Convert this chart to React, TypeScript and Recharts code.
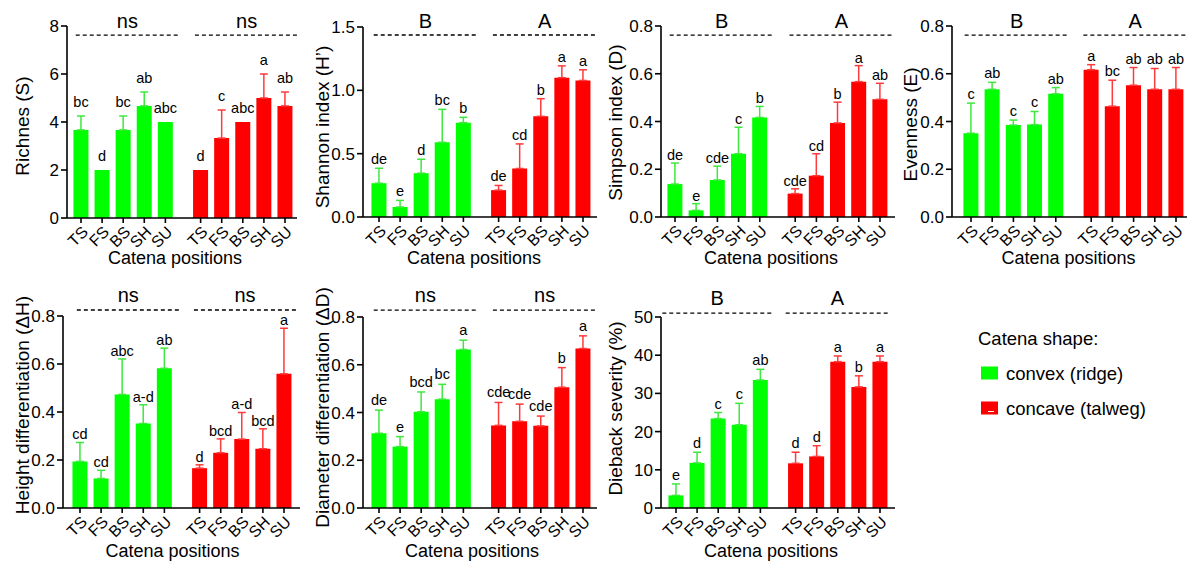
import React from 'react';
import {
  ComposedChart,
  Bar,
  Cell,
  ErrorBar,
  Line,
  LabelList,
  XAxis,
  YAxis,
  ReferenceLine,
} from 'recharts';

// ---------- data ----------
const positions = ['TS', 'FS', 'BS', 'SH', 'SU'];
const xSlots = [0, 1, 2, 3, 4, 5.67, 6.67, 7.67, 8.67, 9.67];
const tickLabels = [...positions, ...positions];
const shapes = ['convex (ridge)', 'concave (talweg)'];

const richMean = [3.67, 2.0, 3.67, 4.67, 4.0, 2.0, 3.33, 4.0, 5.0, 4.67];
const richErr = [0.58, 0, 0.58, 0.58, 0, 0, 1.17, 0, 1.0, 0.58];
const richLetters = ['bc', 'd', 'bc', 'ab', 'abc', 'd', 'c', 'abc', 'a', 'ab'];
const richGroups = ['ns', 'ns'];

const shanMean = [0.267, 0.079, 0.346, 0.59, 0.745, 0.212, 0.383, 0.795, 1.1, 1.078];
const shanErr = [0.118, 0.052, 0.11, 0.26, 0.042, 0.037, 0.194, 0.139, 0.093, 0.084];
const shanLetters = ['de', 'e', 'd', 'bc', 'b', 'de', 'cd', 'b', 'a', 'a'];
const shanGroups = ['B', 'A'];

const simpMean = [0.138, 0.028, 0.155, 0.265, 0.417, 0.098, 0.173, 0.394, 0.567, 0.493];
const simpErr = [0.088, 0.028, 0.058, 0.111, 0.046, 0.02, 0.092, 0.087, 0.067, 0.067];
const simpLetters = ['de', 'e', 'cde', 'c', 'b', 'cde', 'cd', 'b', 'a', 'ab'];
const simpGroups = ['B', 'A'];

const evenMean = [0.351, 0.535, 0.385, 0.387, 0.516, 0.617, 0.464, 0.552, 0.535, 0.535];
const evenErr = [0.126, 0.029, 0.021, 0.055, 0.026, 0.021, 0.109, 0.074, 0.087, 0.091];
const evenLetters = ['c', 'ab', 'c', 'c', 'ab', 'a', 'bc', 'ab', 'ab', 'ab'];
const evenGroups = ['B', 'A'];

const heightMean = [0.194, 0.123, 0.473, 0.352, 0.582, 0.166, 0.23, 0.287, 0.247, 0.559];
const heightErr = [0.079, 0.034, 0.148, 0.078, 0.084, 0.014, 0.058, 0.111, 0.083, 0.19];
const heightLetters = ['cd', 'cd', 'abc', 'a-d', 'ab', 'd', 'bcd', 'a-d', 'bcd', 'a'];
const heightGroups = ['ns', 'ns'];

const diamMean = [0.313, 0.257, 0.403, 0.456, 0.664, 0.346, 0.363, 0.344, 0.506, 0.668];
const diamErr = [0.097, 0.042, 0.083, 0.062, 0.039, 0.096, 0.072, 0.041, 0.082, 0.053];
const diamLetters = ['de', 'e', 'bcd', 'bc', 'a', 'cde', 'cde', 'cde', 'b', 'a'];
const diamGroups = ['ns', 'ns'];

const dieMean = [3.3, 11.8, 23.4, 21.8, 33.5, 11.7, 13.5, 38.3, 31.7, 38.3];
const dieErr = [3.0, 2.8, 1.6, 5.6, 2.8, 2.9, 2.8, 1.5, 2.9, 1.5];
const dieLetters = ['e', 'd', 'c', 'c', 'ab', 'd', 'd', 'a', 'b', 'a'];
const dieGroups = ['B', 'A'];

const ticks8 = [0, 2, 4, 6, 8];
const ticks15 = [0, 0.5, 1.0, 1.5];
const ticks08 = [0, 0.2, 0.4, 0.6, 0.8];
const ticks50 = [0, 10, 20, 30, 40, 50];

// ---------- styles ----------
const GREEN = '#00ff00';
const RED = '#ff0000';
const GREEN_ERR = '#3ee83e';
const RED_ERR = '#ff3a3a';
const FONT = '"Liberation Sans", Arial, Helvetica, sans-serif';

type Spec = {
  left: number; top: number; width: number; height: number;
  axisX: number; plotTop: number; plotBottom: number; plotRight: number;
  firstBar: number; lastBar: number;
  mean: number[]; err: number[]; letters: string[]; groups: string[];
  yMax: number; yTicks: number[]; decimals: number; yLabel: string;
  yLabelX: number; yLabelDy: number; xLabelDx: number; xLabelOffset: number;
  letterOffset: number; dashY: number; dashA: [number, number]; dashB: [number, number];
  groupOffset: number;
};

function Panel({ s }: { s: Spec }) {
  const u = (s.lastBar - s.firstBar) / 9.67;
  const lo = -(s.firstBar - s.axisX) / u;
  const hi = 9.67 + (s.plotRight - s.lastBar) / u;
  const data = xSlots.map((x, i) => ({
    x,
    v: s.mean[i],
    eg: i < 5 && s.err[i] > 0 ? [0, s.err[i]] : null,
    er: i >= 5 && s.err[i] > 0 ? [0, s.err[i]] : null,
    t: s.mean[i] + s.err[i],
    l: s.letters[i],
  }));
  const axisStroke = { stroke: '#000', strokeWidth: 1.6 };
  const groupLabel = (v: string) => ({
    value: v,
    position: 'top' as const,
    offset: s.groupOffset,
    fontSize: 20,
    fill: '#000',
  });
  return (
    <div style={{ position: 'absolute', left: s.left, top: s.top }}>
      <ComposedChart
        width={s.width}
        height={s.height}
        data={data}
        margin={{ top: s.plotTop - s.top, right: s.left + s.width - s.plotRight, bottom: 0, left: 0 }}
      >
        <XAxis
          type="number"
          dataKey="x"
          domain={[lo, hi]}
          ticks={xSlots}
          interval={0}
          tickFormatter={(v: number) => tickLabels[xSlots.indexOf(v)]}
          angle={-45}
          textAnchor="end"
          height={s.top + s.height - s.plotBottom}
          tick={{ fontSize: 16, fill: '#000' }}
          tickSize={5}
          tickLine={axisStroke}
          axisLine={axisStroke}
          label={{
            value: 'Catena positions',
            position: 'insideBottom',
            offset: s.xLabelOffset,
            fontSize: 18,
            fill: '#000',
            dx: s.xLabelDx,
          }}
        />
        <YAxis
          type="number"
          domain={[0, s.yMax]}
          ticks={s.yTicks}
          interval={0}
          tickFormatter={(v: number) => v.toFixed(s.decimals)}
          width={s.axisX - s.left}
          tick={{ fontSize: 17, fill: '#000' }}
          tickSize={6}
          tickLine={axisStroke}
          axisLine={axisStroke}
          label={{
            value: s.yLabel,
            angle: -90,
            position: 'insideLeft',
            offset: s.yLabelX - s.left,
            fontSize: 19,
            fill: '#000',
            dy: s.yLabelDy,
            style: { textAnchor: 'middle' },
          }}
        />
        <ReferenceLine
          segment={[{ x: s.dashA[0], y: s.dashY }, { x: s.dashA[1], y: s.dashY }]}
          stroke="#000"
          strokeWidth={1.3}
          strokeDasharray="4 3"
          ifOverflow="visible"
          label={groupLabel(s.groups[0])}
        />
        <ReferenceLine
          segment={[{ x: s.dashB[0], y: s.dashY }, { x: s.dashB[1], y: s.dashY }]}
          stroke="#000"
          strokeWidth={1.3}
          strokeDasharray="4 3"
          ifOverflow="visible"
          label={groupLabel(s.groups[1])}
        />
        <Bar dataKey="v" barSize={15} isAnimationActive={false}>
          {data.map((d, i) => (
            <Cell key={i} fill={i < 5 ? GREEN : RED} />
          ))}
          <ErrorBar dataKey="eg" width={4} stroke={GREEN_ERR} strokeWidth={1.5} direction="y" isAnimationActive={false} />
          <ErrorBar dataKey="er" width={4} stroke={RED_ERR} strokeWidth={1.5} direction="y" isAnimationActive={false} />
        </Bar>
        <Line dataKey="t" stroke="none" dot={false} activeDot={false} isAnimationActive={false} legendType="none">
          <LabelList dataKey="l" position="top" offset={s.letterOffset} fontSize={14.5} fill="#000" />
        </Line>
      </ComposedChart>
    </div>
  );
}

const topRow = { top: 0, height: 270, xLabelOffset: 6, groupOffset: 7 };
const botRow = { top: 280, height: 282, xLabelOffset: 5, groupOffset: 8 };
const dA: [number, number] = [-0.25, 4.65];
const dB: [number, number] = [5.4, 10.3];

const specs: Spec[] = [
  {
    ...topRow, left: 0, width: 300, axisX: 67, plotTop: 26, plotBottom: 218, plotRight: 297,
    firstBar: 81, lastBar: 285, mean: richMean, err: richErr, letters: richLetters, groups: richGroups,
    yMax: 8, yTicks: ticks8, decimals: 0, yLabel: 'Richnes (S)', yLabelX: 22, yLabelDy: 4,
    xLabelDx: -7, letterOffset: 9, dashY: 7.62, dashA: dA, dashB: dB,
  },
  {
    ...topRow, left: 300, width: 300, axisX: 363, plotTop: 27, plotBottom: 217, plotRight: 597,
    firstBar: 379, lastBar: 583, mean: shanMean, err: shanErr, letters: shanLetters, groups: shanGroups,
    yMax: 1.5, yTicks: ticks15, decimals: 1, yLabel: 'Shannon  index (H\u2019)', yLabelX: 322, yLabelDy: 5,
    xLabelDx: -6, letterOffset: 4, dashY: 1.437, dashA: dA, dashB: dB,
  },
  {
    ...topRow, left: 597, width: 303, axisX: 661, plotTop: 26, plotBottom: 217, plotRight: 895,
    firstBar: 675, lastBar: 880, mean: simpMean, err: simpErr, letters: simpLetters, groups: simpGroups,
    yMax: 0.8, yTicks: ticks08, decimals: 1, yLabel: 'Simpson index (D)', yLabelX: 615, yLabelDy: 1,
    xLabelDx: -7, letterOffset: 3, dashY: 0.762, dashA: dA, dashB: dB,
  },
  {
    ...topRow, left: 895, width: 294, axisX: 952, plotTop: 26, plotBottom: 217, plotRight: 1187,
    firstBar: 971, lastBar: 1176, mean: evenMean, err: evenErr, letters: evenLetters, groups: evenGroups,
    yMax: 0.8, yTicks: ticks08, decimals: 1, yLabel: 'Evenness (E)', yLabelX: 910, yLabelDy: 3,
    xLabelDx: -1, letterOffset: 4, dashY: 0.762, dashA: [-0.3, 4.6], dashB: [5.3, 10.2],
  },
  {
    ...botRow, left: 0, width: 302, axisX: 63, plotTop: 316, plotBottom: 508, plotRight: 300,
    firstBar: 80, lastBar: 284, mean: heightMean, err: heightErr, letters: heightLetters, groups: heightGroups,
    yMax: 0.8, yTicks: ticks08, decimals: 1, yLabel: 'Height differentiation (\u0394H)', yLabelX: 22, yLabelDy: -7,
    xLabelDx: -9, letterOffset: 3, dashY: 0.825, dashA: [-0.15, 4.72], dashB: [5.4, 10.25],
  },
  {
    ...botRow, left: 300, width: 300, axisX: 363, plotTop: 317, plotBottom: 508, plotRight: 597,
    firstBar: 379, lastBar: 583, mean: diamMean, err: diamErr, letters: diamLetters, groups: diamGroups,
    yMax: 0.8, yTicks: ticks08, decimals: 1, yLabel: 'Diameter differentiation (\u0394D)', yLabelX: 322, yLabelDy: -5,
    xLabelDx: -8, letterOffset: 5, dashY: 0.829, dashA: dA, dashB: dB,
  },
  {
    ...botRow, left: 590, width: 310, axisX: 661, plotTop: 317, plotBottom: 508, plotRight: 895,
    firstBar: 676, lastBar: 880, mean: dieMean, err: dieErr, letters: dieLetters, groups: dieGroups,
    yMax: 50, yTicks: ticks50, decimals: 0, yLabel: 'Dieback severity (%)', yLabelX: 615, yLabelDy: -4,
    xLabelDx: -7, letterOffset: 4, dashY: 51, dashA: [-0.65, 4.55], dashB: [5.2, 10.1],
  },
];

function LegendBox() {
  return (
    <svg
      width={229}
      height={110}
      style={{ position: 'absolute', left: 960, top: 320 }}
      fontFamily={FONT}
    >
      <text x={18} y={24.5} fontSize={18.5} fill="#000">Catena shape:</text>
      <rect x={21} y={46.5} width={17} height={13} fill={GREEN} />
      <text x={46} y={59.5} fontSize={18.5} fill="#000">{shapes[0]}</text>
      <rect x={21} y={81.5} width={17} height={13} fill={RED} />
      <line x1={28} y1={91.5} x2={34} y2={91.5} stroke="#fff" strokeWidth={1} />
      <text x={46} y={94.5} fontSize={18.5} fill="#000">{shapes[1]}</text>
    </svg>
  );
}

export default function App() {
  return (
    <div
      style={{
        position: 'absolute',
        left: 0,
        top: 0,
        width: 1189,
        height: 562,
        background: '#fff',
        fontFamily: FONT,
        overflow: 'hidden',
      }}
    >
      {specs.map((s, i) => (
        <Panel key={i} s={s} />
      ))}
      <LegendBox />
    </div>
  );
}
